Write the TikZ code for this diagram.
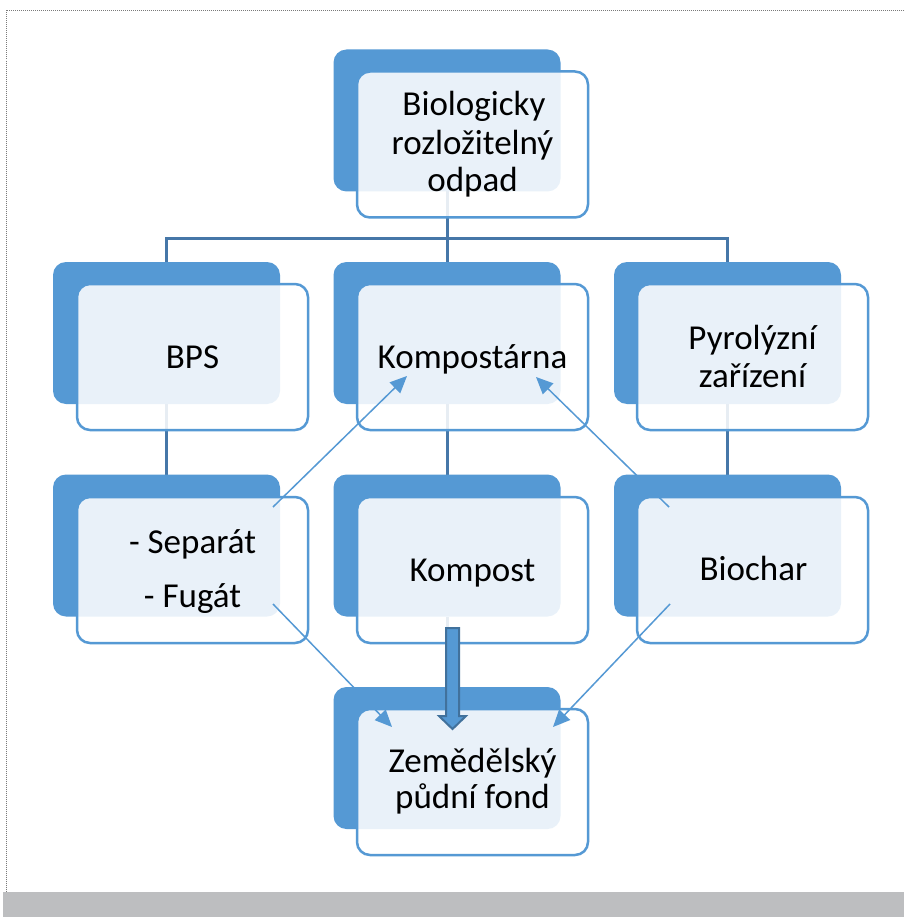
\documentclass[tikz,border=0pt]{standalone}
\usepackage{fontspec}
\setmainfont{Carlito}
\usetikzlibrary{arrows.meta}
\definecolor{accent}{HTML}{5599D4}
\definecolor{connc}{HTML}{4677A8}
\definecolor{arrowborder}{HTML}{41719C}
\definecolor{barc}{HTML}{BDBEC0}
\definecolor{framec}{HTML}{7A7A7A}
\begin{document}
\begin{tikzpicture}[x=1pt,y=-1pt,
  frontbox/.style={draw=accent, line width=2.5pt, fill=white, fill opacity=0.87, rounded corners=13pt, minimum width=231pt, minimum height=146pt, inner sep=0pt, outer sep=0pt},
  backpos/.style={minimum width=227pt, minimum height=142pt, inner sep=0pt, outer sep=0pt},
  lbl/.style={anchor=base, font=\fontsize{35}{40}\selectfont, inner sep=0pt, text=black},
  conn/.style={draw=connc, line width=3pt},
  thinarrow/.style={draw=accent, line width=1.5pt, -{Triangle[length=17pt,width=15pt]}},
  bigarrow/.style={fill=accent, draw=arrowborder, line width=2pt, line join=miter}
]
\useasboundingbox (0,0) rectangle (904,917);
\fill[white] (0,0) rectangle (904,917);
% frame and bottom bar
\draw[framec, line width=1pt, dash pattern=on 1pt off 1pt] (904,10.5) -- (6,10.5) -- (6,892);
\fill[barc] (3,892) rectangle (904,917);

% back boxes (positions only, drawn later)
\path
  (447,120.5)   node[backpos] (b1) {}
  (166.5,333)   node[backpos] (bL2) {}
  (447,333)     node[backpos] (bM2) {}
  (727.5,333)   node[backpos] (bR2) {}
  (166.5,545.5) node[backpos] (bL3) {}
  (447,545.5)   node[backpos] (bM3) {}
  (727.5,545.5) node[backpos] (bR3) {}
  (447,758)     node[backpos] (bM4) {};

% tree connectors
\coordinate (hub) at (447,238);
\draw[conn] (b1.south) -- (hub);
\draw[conn] (bL2.north) |- (hub);
\draw[conn] (bR2.north) |- (hub);
\draw[conn] (hub) -- (bM2.north);
\draw[conn] (bL2.south) -- (bL3.north);
\draw[conn] (bM2.south) -- (bM3.north);
\draw[conn] (bR2.south) -- (bR3.north);
\draw[conn] (bM3.south) -- (bM4.north);

% boxes
\foreach \n in {b1,bL2,bM2,bR2,bL3,bM3,bR3,bM4}{
  \fill[accent, rounded corners=13pt] (\n.north west) rectangle (\n.south east);
}
\node[frontbox] (f1)  at (472.5,144.5) {};
\node[frontbox] (fL2) at (192.5,357) {};
\node[frontbox] (fM2) at (472.5,357) {};
\node[frontbox] (fR2) at (752.5,357) {};
\node[frontbox] (fL3) at (192.5,570) {};
\node[frontbox] (fM3) at (472.5,570) {};
\node[frontbox] (fR3) at (752.5,570) {};
\node[frontbox] (fM4) at (472.5,782) {};

% labels
\node[lbl] (t1a) at (474,116) {Biologicky};
\node[lbl] (t1b) at (472.5,154.5) {rozložitelný};
\node[lbl] (t1c) at (472.5,192) {odpad};
\node[lbl] (tL2) at (192.5,368) {BPS};
\node[lbl] (tM2) at (472.5,368) {Kompostárna};
\node[lbl] (tR2a) at (752.5,349) {Pyrolýzní};
\node[lbl] (tR2b) at (752.5,387) {zařízení};
\node[lbl] (tL3a) at (192.5,553) {- Separát};
\node[lbl] (tL3b) at (192.5,607) {- Fugát};
\node[lbl] (tM3) at (472.5,581) {Kompost};
\node[lbl] (tR3) at (753.5,580) {Biochar};
\node[lbl] (tM4a) at (472.5,772) {Zemědělský};
\node[lbl] (tM4b) at (472.5,808) {půdní fond};

% thin arrows
\coordinate (sep) at (273,507);
\coordinate (fug) at (273,604);
\coordinate (bioA) at (669,507);
\coordinate (bioB) at (670,604);
\coordinate (kompL) at (407,376);
\coordinate (kompR) at (536,377);
\coordinate (zemL) at (392,727);
\coordinate (zemR) at (553,727);
\draw[thinarrow] (sep) -- (kompL);
\draw[thinarrow] (bioA) -- (kompR);
\draw[thinarrow] (fug) -- (zemL);
\draw[thinarrow] (bioB) -- (zemR);

% thick arrow from Kompost to Zemedelsky pudni fond
\draw[bigarrow] (446,628) -- (459,628) -- (459,716) -- (466,716) -- (452.5,729) -- (439,716) -- (446,716) -- cycle;
\end{tikzpicture}
\end{document}
